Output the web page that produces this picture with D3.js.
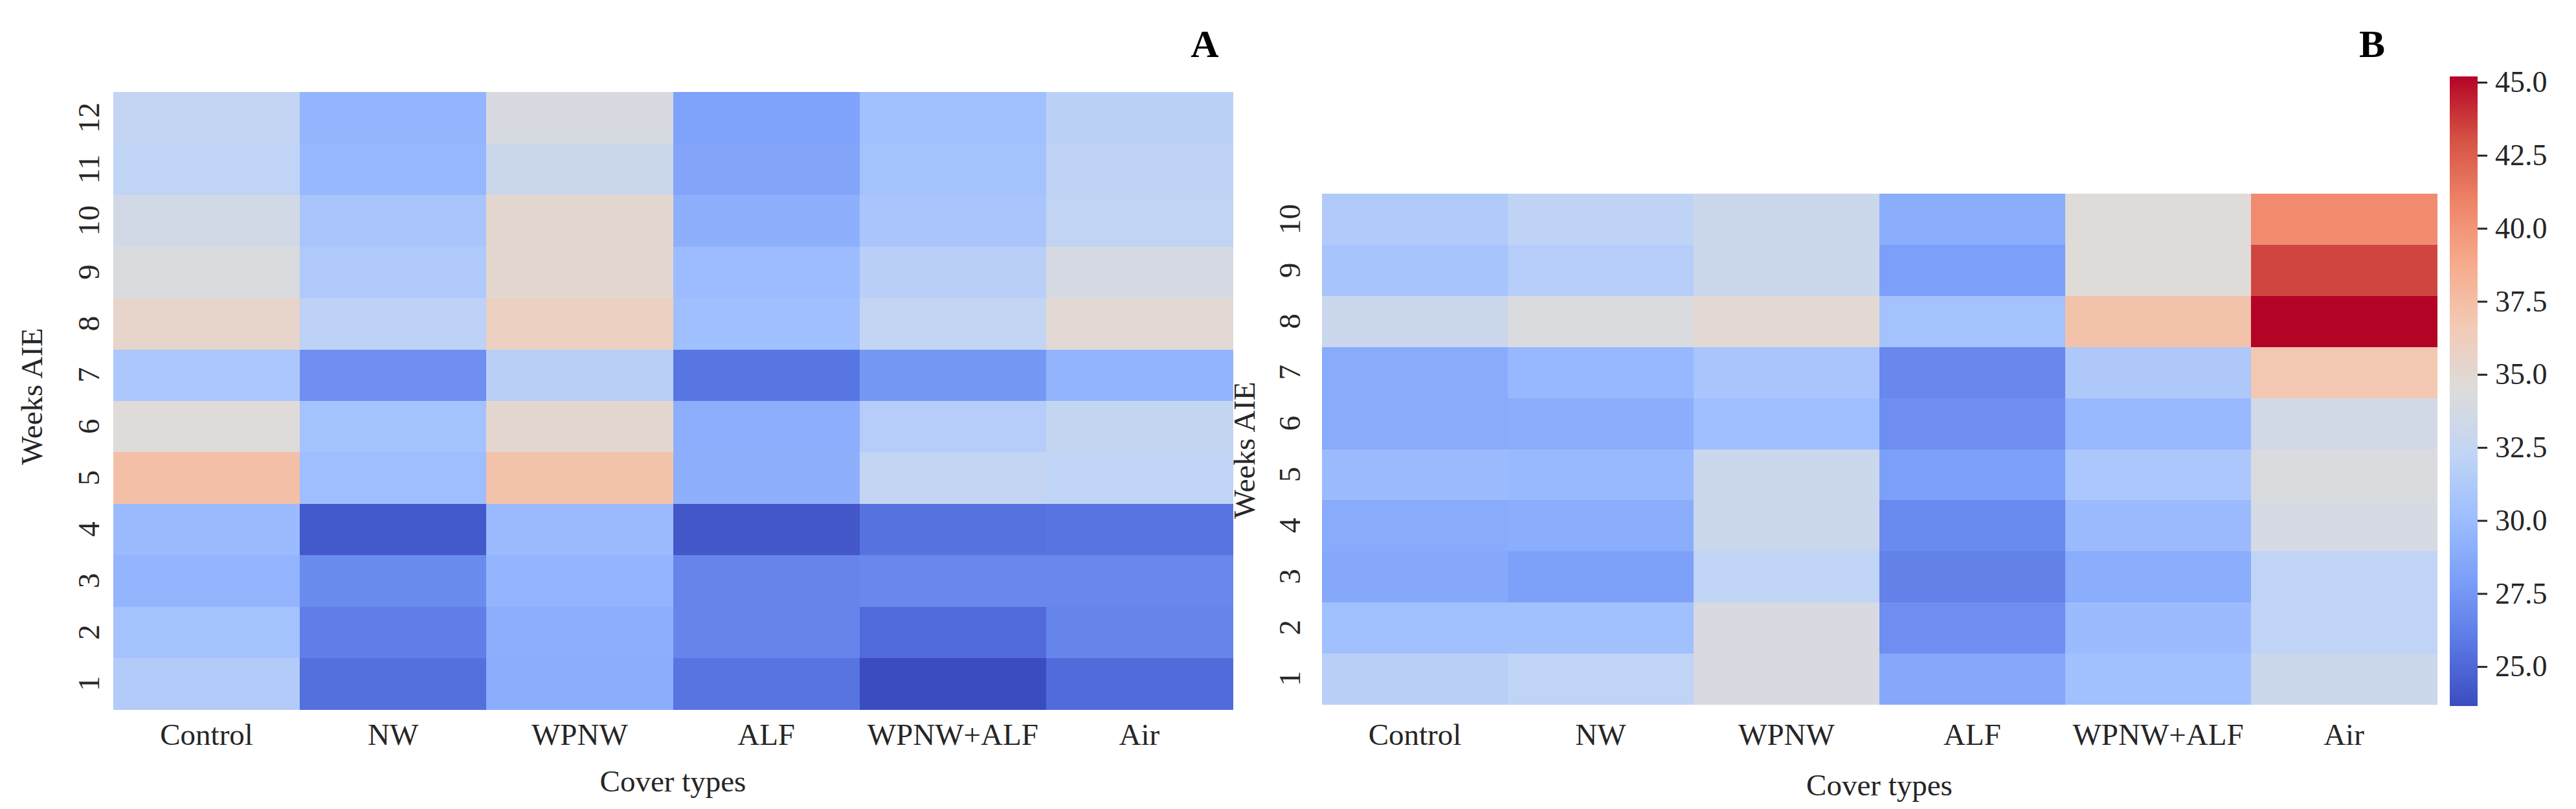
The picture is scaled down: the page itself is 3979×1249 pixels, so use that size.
<!DOCTYPE html>
<html>
<head>
<meta charset="utf-8">
<script src="https://cdn.jsdelivr.net/npm/d3@7"></script>
<style>
  html, body { margin: 0; padding: 0; background: #ffffff; }
  svg { display: block; }
  text { font-family: "Liberation Serif", "Times New Roman", serif; }
</style>
</head>
<body>
<svg id="chart" width="3979" height="1249"></svg>
<script>
// ---------------- DATA ----------------
const coverTypes = ["Control", "NW", "WPNW", "ALF", "WPNW+ALF", "Air"];
const weeksA = [1, 2, 3, 4, 5, 6, 7, 8, 9, 10, 11, 12];
const weeksB = [1, 2, 3, 4, 5, 6, 7, 8, 9, 10];

// Panel A: rows = weeks 1..12, columns = coverTypes
const valuesA = [
  [31.4, 25.4, 28.9, 25.6, 23.65, 25.2],
  [30.5, 26.2, 29.0, 26.5, 25.2, 26.5],
  [29.5, 26.9, 29.5, 26.5, 26.7, 26.7],
  [29.9, 24.3, 29.9, 24.2, 25.5, 25.6],
  [37.4, 30.1, 37.2, 29.1, 32.5, 32.3],
  [34.6, 30.5, 35.1, 29.0, 31.6, 32.6],
  [31.0, 27.1, 31.8, 25.7, 27.6, 29.4],
  [35.5, 32.1, 36.0, 30.2, 32.5, 34.9],
  [34.2, 31.2, 35.1, 30.0, 31.8, 33.9],
  [33.6, 30.8, 35.1, 29.1, 30.8, 32.4],
  [32.3, 29.7, 33.1, 28.4, 30.5, 32.2],
  [32.5, 29.5, 34.0, 28.2, 30.3, 32.0]
];

// Panel B: rows = weeks 1..10, columns = coverTypes
const valuesB = [
  [31.8, 32.3, 34.0, 28.6, 30.3, 33.0],
  [30.3, 30.3, 34.0, 27.1, 29.9, 32.3],
  [28.6, 28.1, 32.3, 26.3, 28.9, 32.3],
  [28.8, 28.9, 33.0, 26.8, 29.9, 33.8],
  [29.9, 29.8, 33.0, 28.0, 31.0, 34.2],
  [28.8, 28.9, 30.2, 27.1, 29.8, 33.5],
  [28.8, 29.7, 30.8, 26.7, 31.1, 36.8],
  [33.0, 34.2, 34.9, 30.5, 37.2, 45.2],
  [30.7, 31.6, 33.1, 28.0, 34.6, 43.4],
  [31.3, 32.2, 33.1, 28.9, 34.6, 40.5]
];

const colorbarTicks = [25.0, 27.5, 30.0, 32.5, 35.0, 37.5, 40.0, 42.5, 45.0];

// matplotlib "coolwarm" samples at 0, 0.1, ..., 1
const coolwarmStops = ["#3b4cc0", "#5a78e4", "#7b9ff9", "#9ebeff", "#c0d4f5",
                       "#dddcdc", "#f2cbb7", "#f7ac8e", "#ee8468", "#d65244", "#b40426"];

// ---------------- SETUP ----------------
const svg = d3.select("#chart");
const textColor = "#262626";
const fontSize = 47;

const allVals = valuesA.flat().concat(valuesB.flat());
const [vmin, vmax] = d3.extent(allVals);
const interp = d3.piecewise(d3.interpolateRgb, coolwarmStops);
const color = v => interp(Math.max(0, Math.min(1, (v - vmin) / (vmax - vmin))));

function drawPanel(cfg) {
  const g = svg.append("g");
  const x = d3.scaleBand().domain(coverTypes).range([cfg.x0, cfg.x1]).padding(0);
  const y = d3.scaleBand().domain(cfg.weeks.slice().reverse()).range([cfg.y0, cfg.y1]).padding(0);

  const cells = [];
  cfg.values.forEach((row, i) => {
    row.forEach((v, j) => cells.push({ week: cfg.weeks[i], cover: coverTypes[j], v }));
  });

  g.selectAll("rect.cell").data(cells).join("rect")
    .attr("class", "cell")
    .attr("x", d => x(d.cover))
    .attr("y", d => y(d.week))
    .attr("width", x.bandwidth() + 0.5)
    .attr("height", y.bandwidth() + 0.5)
    .attr("fill", d => color(d.v))
    .attr("shape-rendering", "crispEdges");

  // x tick labels
  const xAxis = d3.axisBottom(x).tickSize(0).tickPadding(0);
  const xg = g.append("g").attr("transform", `translate(0,${cfg.xTickBaseline})`).call(xAxis);
  xg.select(".domain").remove();
  xg.selectAll("text")
    .attr("y", 0).attr("dy", 0)
    .attr("font-size", fontSize)
    .attr("font-family", "Liberation Serif")
    .attr("fill", textColor);

  // y tick labels (rotated)
  g.selectAll("text.ytick").data(cfg.weeks).join("text")
    .attr("class", "ytick")
    .attr("transform", d => `translate(${cfg.yTickBaseline},${y(d) + y.bandwidth() / 2}) rotate(-90)`)
    .attr("text-anchor", "middle")
    .attr("font-size", fontSize)
    .attr("fill", textColor)
    .text(d => d);

  // axis titles
  g.append("text")
    .attr("x", (cfg.x0 + cfg.x1) / 2)
    .attr("y", cfg.xLabelBaseline)
    .attr("text-anchor", "middle")
    .attr("font-size", fontSize)
    .attr("fill", textColor)
    .text("Cover types");

  g.append("text")
    .attr("transform", `translate(${cfg.yLabelBaseline},${cfg.yLabelCenter}) rotate(-90)`)
    .attr("text-anchor", "middle")
    .attr("font-size", fontSize)
    .attr("fill", textColor)
    .text("Weeks AIE");

  // panel letter
  g.append("text")
    .attr("x", cfg.letterX)
    .attr("y", 88)
    .attr("text-anchor", "middle")
    .attr("font-size", 60)
    .attr("font-weight", "bold")
    .attr("fill", "#000")
    .text(cfg.letter);
}

drawPanel({
  values: valuesA, weeks: weeksA,
  x0: 175, x1: 1904, y0: 142, y1: 1095,
  xTickBaseline: 1150, yTickBaseline: 153,
  xLabelBaseline: 1222, yLabelBaseline: 65, yLabelCenter: 612,
  letter: "A", letterX: 1861
});

drawPanel({
  values: valuesB, weeks: weeksB,
  x0: 2042, x1: 3764, y0: 299, y1: 1087,
  xTickBaseline: 1150, yTickBaseline: 2008,
  xLabelBaseline: 1228, yLabelBaseline: 1938, yLabelCenter: 695,
  letter: "B", letterX: 3664
});

// ---------------- COLORBAR ----------------
const cbX = 3784, cbW = 43, cbTop = 118, cbBottom = 1090;
const cbScale = d3.scaleLinear().domain([vmin, vmax]).range([cbBottom, cbTop]);

const defs = svg.append("defs");
const grad = defs.append("linearGradient")
  .attr("id", "cbgrad")
  .attr("x1", 0).attr("y1", 1).attr("x2", 0).attr("y2", 0);
grad.selectAll("stop").data(d3.range(0, 1.0001, 0.02)).join("stop")
  .attr("offset", d => d)
  .attr("stop-color", d => color(vmin + d * (vmax - vmin)));

svg.append("rect")
  .attr("x", cbX).attr("y", cbTop)
  .attr("width", cbW).attr("height", cbBottom - cbTop)
  .attr("fill", "url(#cbgrad)");

const cbAxis = d3.axisRight(cbScale)
  .tickValues(colorbarTicks)
  .tickFormat(d3.format(".1f"))
  .tickSize(15)
  .tickPadding(12);

const cbg = svg.append("g").attr("transform", `translate(${cbX + cbW},0)`).call(cbAxis);
cbg.select(".domain").remove();
cbg.selectAll(".tick line").attr("stroke", textColor).attr("stroke-width", 3);
cbg.selectAll(".tick text")
  .attr("font-size", 46)
  .attr("font-family", "Liberation Serif")
  .attr("fill", textColor);
</script>
</body>
</html>
